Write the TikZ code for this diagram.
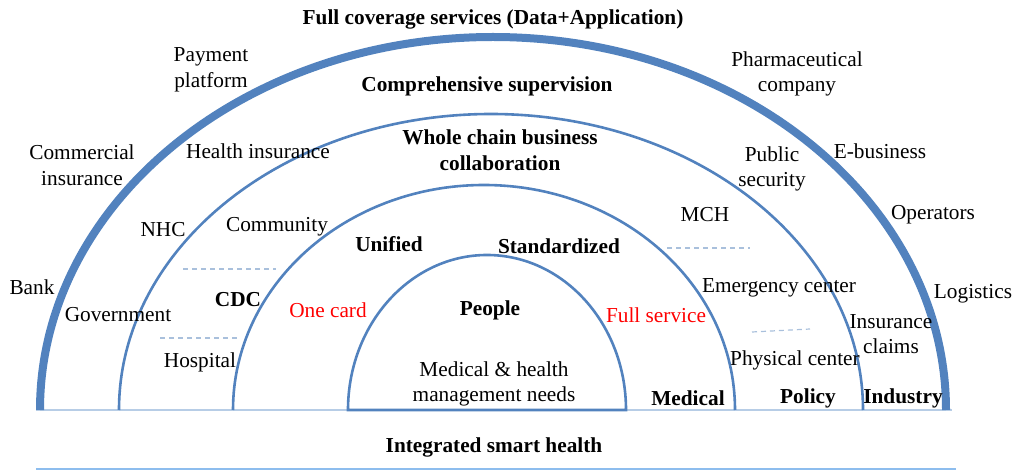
\documentclass[tikz,border=0pt]{standalone}
\usepackage{fontspec}
\setmainfont{Liberation Serif}
\usepackage{tikz}
\definecolor{ringblue}{HTML}{5282BE}
\definecolor{baseblue}{HTML}{B7CDE6}
\definecolor{footblue}{HTML}{8DBDEE}
\definecolor{dashblue}{HTML}{A9C0DC}
\tikzset{
  lbl/.style={font=\fontsize{21.3}{25.5}\selectfont, inner sep=0pt, align=center, yshift=-2pt},
  hd/.style={lbl, font=\fontsize{21.3}{25.5}\selectfont\bfseries},
  rd/.style={lbl, text=red},
  ring/.style={draw=ringblue, line width=2.6pt},
  sep/.style={draw=dashblue, line width=1.2pt, dash pattern=on 5pt off 4pt}
}
\begin{document}
\begin{tikzpicture}[x=1pt,y=1pt]
\useasboundingbox (0,0) rectangle (1014,471);
% base lines
\draw [draw=baseblue, line width=2.6pt] (36,61) -- (952,61);
\draw [draw=footblue, line width=1.8pt] (36,2) -- (956,2);
% rings
\draw [draw=ringblue, line width=8pt] (40,61) arc[start angle=180, end angle=0, x radius=453, y radius=373];
\draw [ring] (119,61) arc[start angle=180, end angle=0, x radius=372, y radius=296];
\draw [ring] (233,61) arc[start angle=180, end angle=0, x radius=251, y radius=225];
\draw [ring] (348,61) arc[start angle=180, end angle=0, x radius=139, y radius=155] -- cycle;
% dashed separators
\draw [sep] (183,202) -- (276,202);
\draw [sep] (160,133) -- (240,133);
\draw [sep] (667,223) -- (750,223);
\draw [sep] (752,139) -- (810,142);
% outer ring
\node [hd] (full) at (493,454) {Full coverage services (Data+Application)};
\node [lbl] (pay) at (211,403) {Payment\\platform};
\node [lbl] (pharma) at (797,399) {Pharmaceutical\\company};
\node [lbl] (comins) at (82,308) {Commercial\\insurance};
\node [lbl] (ebiz) at (880,322) {E-business};
\node [lbl] (oper) at (933,258) {Operators};
\node [lbl] (bank) at (32,186) {Bank};
\node [lbl] (logi) at (973,179) {Logistics};
\node [lbl] (insclaim) at (891,139) {Insurance\\claims};
\node [hd] (industry) at (903,75) {Industry};
% second ring
\node [hd] (superv) at (487,387) {Comprehensive supervision};
\node [lbl] (healthins) at (258,322) {Health insurance};
\node [lbl] (pubsec) at (772,304) {Public\\security};
\node [lbl] (nhc) at (163,243) {NHC};
\node [lbl] (gov) at (118,158) {Government};
\node [hd] (policy) at (808,75) {Policy};
% third ring
\node [hd] (chain) at (500,323) {Whole chain business\\collaboration};
\node [lbl] (commu) at (277,246) {Community};
\node [lbl] (mch) at (705,258) {MCH};
\node [hd] (cdc) at (238,173) {CDC};
\node [lbl] (emerg) at (779,185) {Emergency center};
\node [lbl] (hosp) at (200,111) {Hospital};
\node [lbl] (phys) at (795,113) {Physical center};
\node [hd] (medical) at (688,75) {Medical};
% inner ring
\node [hd] (unified) at (389,229) {Unified};
\node [hd] (stand) at (559,227) {Standardized};
\node [rd] (onecard) at (328,163) {One card};
\node [hd] (people) at (490,163) {People};
\node [rd] (fullsrv) at (656,158) {Full service};
\node [lbl] (needs) at (494,89) {Medical \& health\\management needs};
\node [hd] (smart) at (494,26) {Integrated smart health};
\end{tikzpicture}
\end{document}
